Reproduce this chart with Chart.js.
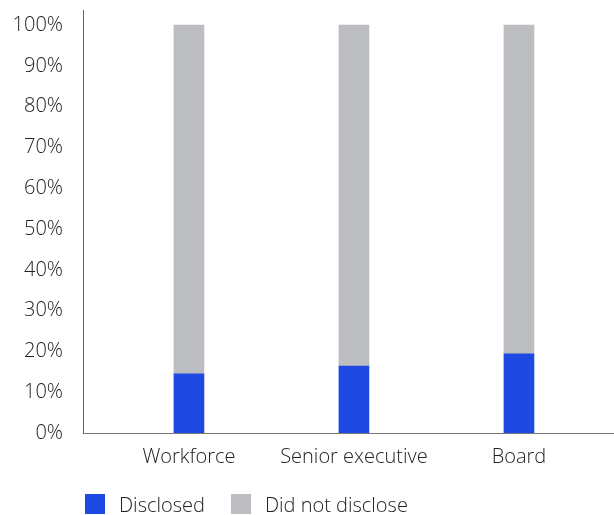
<!DOCTYPE html>
<html>
<head>
<meta charset="utf-8">
<script src="https://cdn.jsdelivr.net/npm/chart.js@4"></script>
<style>
    body { margin: 0; background: #fff; }
    #wrap { position: relative; width: 614px; height: 515px; }
    #legend {
        position: absolute; left: 85px; top: 494px; height: 20px;
        display: flex; align-items: center;
        font-family: "Open Sans", sans-serif; font-weight: 300; font-size: 20px; color: #222;
    }
    #legend .item { display: flex; align-items: center; margin-right: 26px; }
    #legend .box { width: 20px; height: 20px; margin-right: 14px; }
</style>
</head>
<body>
<div id="wrap">
    <canvas id="disclosureChart" width="614" height="515"></canvas>
    <div id="legend"></div>
</div>
<script>
const categories = ['Workforce', 'Senior executive', 'Board'];
const disclosed = [14.5, 16.4, 19.4];
const notDisclosed = [85.5, 83.6, 80.6];
const yTicks = [0, 10, 20, 30, 40, 50, 60, 70, 80, 90, 100];

const BLUE = '#1e49e2';
const GREY = '#bcbdc0';

document.addEventListener('DOMContentLoaded', function () {
    createDisclosureChart('disclosureChart');
});

function createDisclosureChart(canvasId) {
    Chart.defaults.font.family = '"Open Sans", sans-serif';
    Chart.defaults.font.size = 20;
    Chart.defaults.font.weight = 300;
    Chart.defaults.color = '#222';

    const ctx = document.getElementById(canvasId).getContext('2d');
    const chart = new Chart(ctx, {
        type: 'bar',
        data: {
            datasets: [
                {
                    label: 'Disclosed',
                    data: disclosed.map((v, i) => ({ x: i, y: v })),
                    backgroundColor: BLUE,
                    barThickness: 30
                },
                {
                    label: 'Did not disclose',
                    data: notDisclosed.map((v, i) => ({ x: i, y: v })),
                    backgroundColor: GREY,
                    barThickness: 30
                }
            ]
        },
        options: {
            responsive: false,
            animation: false,
            layout: { padding: { top: 10, right: 0, bottom: 0, left: 0 } },
            plugins: {
                legend: { display: false },
                tooltip: { enabled: false }
            },
            scales: {
                x: {
                    type: 'linear',
                    stacked: true,
                    offset: false,
                    min: -0.642,
                    max: 2.576,
                    grid: { display: false, drawTicks: false },
                    border: { color: '#777', width: 1 },
                    afterBuildTicks: scale => {
                        scale.ticks = categories.map((c, i) => ({ value: i }));
                    },
                    afterFit: scale => {
                        scale.height = 82;
                        scale.paddingLeft = 0;
                        scale.paddingRight = 0;
                    },
                    ticks: {
                        padding: 12,
                        maxRotation: 0,
                        autoSkip: false,
                        callback: value => categories[value]
                    }
                },
                y: {
                    stacked: true,
                    min: 0,
                    max: 103.7,
                    grid: { display: false, drawTicks: false },
                    border: { color: '#666', width: 1 },
                    afterBuildTicks: scale => {
                        scale.ticks = yTicks.map(v => ({ value: v }));
                    },
                    afterFit: scale => {
                        scale.width = 83;
                        scale.paddingTop = 0;
                        scale.paddingBottom = 0;
                    },
                    ticks: {
                        padding: 20,
                        callback: value => value + '%'
                    }
                }
            }
        }
    });

    buildLegend(chart);
}

function buildLegend(chart) {
    const legend = document.getElementById('legend');
    chart.data.datasets.forEach(ds => {
        const item = document.createElement('div');
        item.className = 'item';
        const box = document.createElement('span');
        box.className = 'box';
        box.style.background = ds.backgroundColor;
        const text = document.createElement('span');
        text.textContent = ds.label;
        item.appendChild(box);
        item.appendChild(text);
        legend.appendChild(item);
    });
}
</script>
</body>
</html>
